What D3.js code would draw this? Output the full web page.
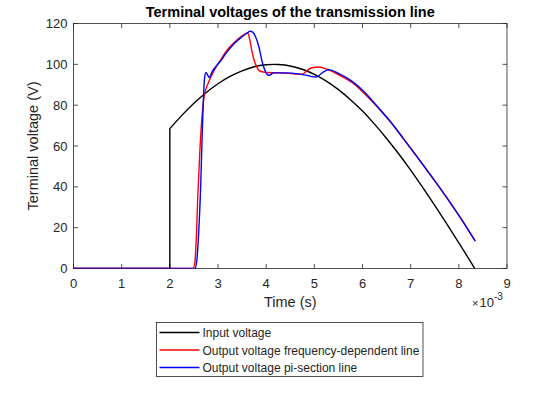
<!DOCTYPE html>
<html>
<head>
<meta charset="utf-8">
<script src="https://cdn.jsdelivr.net/npm/d3@7"></script>
<style>
  body { margin: 0; background: #fff; }
  text { font-family: "Liberation Sans", Arial, sans-serif; fill: #262626; }
</style>
</head>
<body>
<svg width="560" height="420"></svg>
<script>
// time in ms (axis is shown as x10^-3 s), voltage in V
const inputT = [0, 2, 2, 2.25, 2.5, 2.75, 3, 3.25, 3.5, 3.75, 4, 4.17, 4.25, 4.5, 4.75, 5, 5.25, 5.5, 5.75, 6, 6.25, 6.5, 6.75, 7, 7.25, 7.5, 7.75, 8, 8.25, 8.33];
const inputV = [0, 0, 68.5, 75.0, 80.9, 86.1, 90.5, 94.1, 96.8, 98.8, 99.8, 100, 99.9, 99.2, 97.6, 95.1, 91.8, 87.6, 82.7, 77.1, 70.7, 63.7, 56.2, 48.2, 39.7, 30.9, 21.8, 12.5, 3.1, 0];

const freqT = [0, 2.48, 2.52, 2.55, 2.58, 2.62, 2.66, 2.71, 2.8, 2.92, 3.05, 3.19, 3.35, 3.5, 3.62, 3.66, 3.7, 3.75, 3.8, 3.86, 3.95, 4.05, 4.3, 4.6, 4.75, 4.85, 4.95, 5.1, 5.27, 5.5, 5.83, 6.1, 6.38, 6.6, 6.85, 7.1, 7.35, 7.6, 7.85, 8.1, 8.34];
const freqV = [0, 0, 3, 15, 35, 56, 72, 84, 91, 97, 102, 107, 111, 114, 115.3, 112, 107, 102, 99, 96.8, 96.2, 96, 95.8, 95.3, 95.2, 97, 98.3, 98.7, 97.5, 95, 90.3, 84.3, 77.3, 71.2, 63.5, 55.7, 47.7, 39.6, 31.2, 22.4, 13.5];

const piT = [0, 2.52, 2.56, 2.6, 2.64, 2.68, 2.72, 2.75, 2.78, 2.82, 2.88, 2.94, 3.05, 3.2, 3.35, 3.5, 3.6, 3.67, 3.72, 3.78, 3.85, 3.92, 3.99, 4.06, 4.16, 4.4, 4.7, 4.85, 4.95, 5.04, 5.12, 5.2, 5.3, 5.5, 5.8, 6.05, 6.3, 6.6, 6.85, 7.1, 7.35, 7.6, 7.85, 8.1, 8.34];
const piV = [0, 0, 4, 18, 40, 72, 93, 96, 95, 93.5, 96.5, 98.5, 101.5, 106.5, 110.5, 113.5, 115.3, 116.2, 115.8, 113.5, 108.5, 101, 96.2, 94.6, 95.8, 95.8, 95.2, 94.6, 94, 93.8, 95, 96.4, 97.4, 95.6, 91.4, 86.2, 79.6, 71.4, 63.6, 55.8, 47.8, 39.7, 31.3, 22.5, 13.4];

const xTicks = [0, 1, 2, 3, 4, 5, 6, 7, 8, 9];
const yTicks = [0, 20, 40, 60, 80, 100, 120];

const seriesNames = ["Input voltage", "Output voltage frequency-dependent line", "Output voltage pi-section line"];
const seriesColors = ["#000000", "#ff0000", "#0000ff"];

const svg = d3.select("svg");
const margin = { left: 73.5, right: 53, top: 23.5, bottom: 151.5 };
const width = +svg.attr("width");
const height = +svg.attr("height");
const plotW = width - margin.left - margin.right;
const plotH = height - margin.top - margin.bottom;

const x = d3.scaleLinear().domain([0, 9]).range([margin.left, margin.left + plotW]);
const y = d3.scaleLinear().domain([0, 120]).range([margin.top + plotH, margin.top]);

const line = d3.line()
  .x(d => x(d[0]))
  .y(d => y(d[1]))
  .curve(d3.curveMonotoneX);

const lineStep = d3.line()
  .x(d => x(d[0]))
  .y(d => y(d[1]));

const axisColor = "#262626";
const tick = 4.5;

// box
svg.append("rect")
  .attr("x", margin.left)
  .attr("y", margin.top)
  .attr("width", plotW)
  .attr("height", plotH)
  .attr("fill", "none")
  .attr("stroke", axisColor)
  .attr("stroke-width", 0.8);

// ticks (inward, on all four sides)
xTicks.forEach(t => {
  svg.append("line").attr("x1", x(t)).attr("x2", x(t))
    .attr("y1", y(0)).attr("y2", y(0) - tick).attr("stroke", axisColor).attr("stroke-width", 0.8);
  svg.append("line").attr("x1", x(t)).attr("x2", x(t))
    .attr("y1", y(120)).attr("y2", y(120) + tick).attr("stroke", axisColor).attr("stroke-width", 0.8);
  svg.append("text").attr("x", x(t)).attr("y", y(0) + 19.5)
    .attr("text-anchor", "middle").attr("font-size", 13).text(t);
});

yTicks.forEach(v => {
  svg.append("line").attr("x1", x(0)).attr("x2", x(0) + tick)
    .attr("y1", y(v)).attr("y2", y(v)).attr("stroke", axisColor).attr("stroke-width", 0.8);
  svg.append("line").attr("x1", x(9)).attr("x2", x(9) - tick)
    .attr("y1", y(v)).attr("y2", y(v)).attr("stroke", axisColor).attr("stroke-width", 0.8);
  svg.append("text").attr("x", x(0) - 6).attr("y", y(v) + 4.5)
    .attr("text-anchor", "end").attr("font-size", 13).text(v);
});

// curves
svg.append("clipPath").attr("id", "clip")
  .append("rect").attr("x", margin.left).attr("y", margin.top - 2)
  .attr("width", plotW).attr("height", plotH + 2);

const g = svg.append("g").attr("clip-path", "url(#clip)");

// input has a vertical step at t=2, draw it piecewise
const inputPts = inputT.map((t, i) => [t, inputV[i]]);
g.append("path")
  .attr("d", lineStep(inputPts.slice(0, 3)) + line(inputPts.slice(2)).replace(/^M/, "L"))
  .attr("fill", "none").attr("stroke", seriesColors[0]).attr("stroke-width", 1.4);

g.append("path")
  .attr("d", line(freqT.map((t, i) => [t, freqV[i]])))
  .attr("fill", "none").attr("stroke", seriesColors[1]).attr("stroke-width", 1.4);

g.append("path")
  .attr("d", line(piT.map((t, i) => [t, piV[i]])))
  .attr("fill", "none").attr("stroke", seriesColors[2]).attr("stroke-width", 1.4);

// title and labels
svg.append("text").attr("x", x(4.5)).attr("y", 17)
  .attr("text-anchor", "middle").attr("font-size", 14.5).attr("font-weight", "bold")
  .style("fill", "#000").text("Terminal voltages of the transmission line");

svg.append("text").attr("x", x(4.5)).attr("y", 307)
  .attr("text-anchor", "middle").attr("font-size", 14.5).text("Time (s)");

svg.append("text")
  .attr("transform", `translate(38,${y(60)}) rotate(-90)`)
  .attr("text-anchor", "middle").attr("font-size", 14.5).text("Terminal voltage (V)");

const exp = svg.append("text").attr("x", 472).attr("y", 307).attr("font-size", 11);
exp.append("tspan").text("\u00d7");
exp.append("tspan").attr("dx", 1).attr("font-size", 13).text("10");
exp.append("tspan").attr("dy", -7).attr("font-size", 10).text("-3");

// legend
const lg = svg.append("g").attr("transform", "translate(156.5,322.5)");
lg.append("rect").attr("width", 266.5).attr("height", 54)
  .attr("fill", "#fff").attr("stroke", axisColor).attr("stroke-width", 0.8);
seriesNames.forEach((name, i) => {
  const yy = 10 + i * 17.5;
  lg.append("line").attr("x1", 3).attr("x2", 43).attr("y1", yy).attr("y2", yy)
    .attr("stroke", seriesColors[i]).attr("stroke-width", 1.4);
  lg.append("text").attr("x", 46).attr("y", yy + 4.5).attr("font-size", 12).text(name);
});
</script>
</body>
</html>
